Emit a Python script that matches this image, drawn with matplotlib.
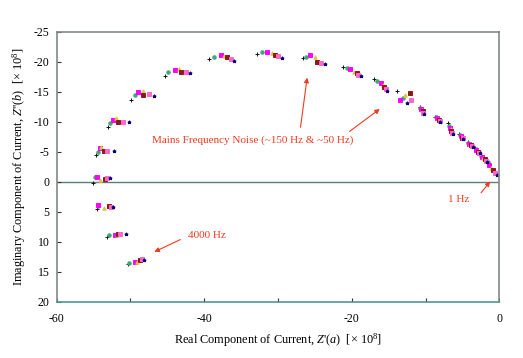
import matplotlib
matplotlib.use("Agg")
import matplotlib.pyplot as plt

plt.rcParams['font.family'] = ['Liberation Serif', 'DejaVu Serif']
plt.rcParams['axes.unicode_minus'] = False
plt.rcParams['mathtext.fontset'] = 'custom'
plt.rcParams['mathtext.rm'] = 'Liberation Serif'
plt.rcParams['mathtext.it'] = 'Liberation Serif:italic'

# repeated sweeps, 4000 Hz (bottom left) -> 1 Hz (right end)
re_s0 = [-50.29, -53.14, -54.58, -55.12, -54.67, -53.09, -49.97, -45.32, -39.31, -32.81, -26.65,
         -21.23, -16.99, -13.81, -10.8, -8.7, -6.9, -5.4, -4.3, -3.3, -2.6, -1.9]
im_s0 = [13.72, 9.27, 4.6, 0.27, -4.45, -9.07, -13.62, -17.62, -20.4, -21.28, -20.57,
         -19.17, -17.07, -15.17, -12.5, -10.8, -9.7, -7.95, -6.65, -5.55, -4.45, -3.6]
re_s1 = [-50.16, -52.87, -54.44, -54.81, -54.44, -52.77, -49.39, -44.87, -38.68, -32.21, -26.21,
         -20.61, -16.54, -13.1, -10.7, -8.6, -6.8, -5.3, -4.2, -3.2, -2.45, -1.6]
im_s1 = [13.5, 8.88, 4.05, -0.73, -5.0, -9.73, -14.45, -18.23, -20.83, -21.57, -20.83,
         -18.9, -16.73, -13.9, -12.3, -10.7, -9.3, -7.8, -6.5, -5.4, -4.25, -3.2]
re_s2 = [-49.39, -52.1, -54.36, -54.58, -54.13, -52.33, -48.94, -43.96, -37.77, -31.53, -25.66,
         -20.24, -16.08, -13.46, -10.6, -8.5, -6.7, -5.2, -4.1, -3.1, -2.3, -1.35]
im_s2 = [13.43, 8.93, 3.88, -0.83, -5.57, -10.28, -15.0, -18.62, -21.17, -21.67, -21.12,
         -18.73, -16.5, -13.62, -12.1, -10.55, -9.0, -7.65, -6.35, -5.25, -4.1, -2.7]
re_s3 = [-49.07, -51.87, -53.59, -54.13, -54.04, -51.96, -48.34, -43.38, -37.32, -30.86, -24.99,
         -19.7, -15.81, -12.79, -10.5, -8.35, -6.6, -5.15, -3.95, -2.95, -2.15, -1.1]
im_s3 = [13.38, 8.88, 4.33, -0.28, -5.73, -10.57, -15.17, -18.73, -21.0, -21.4, -20.83,
         -18.33, -16.12, -14.5, -11.9, -10.4, -8.7, -7.5, -6.2, -5.15, -3.9, -2.3]
re_s4 = [-48.71, -51.65, -52.87, -53.45, -53.6, -51.65, -48.26, -43.19, -36.96, -30.41, -24.67,
         -19.33, -15.63, -12.04, -10.4, -8.2, -6.5, -5.05, -3.85, -2.85, -2.0, -0.85]
im_s4 = [13.05, 8.77, 4.05, -0.45, -5.12, -10.0, -14.45, -18.33, -20.73, -21.12, -20.0,
         -18.07, -15.83, -14.73, -11.7, -10.25, -8.4, -7.35, -6.05, -5.0, -3.7, -1.9]
re_s5 = [-48.48, -51.42, -52.68, -53.14, -53.14, -50.97, -47.45, -42.47, -36.41, -29.96, -24.21,
         -19.12, -15.36, -11.95, -10.3, -8.1, -6.4, -4.95, -3.7, -2.7, -1.85, -0.6]
im_s5 = [12.93, 8.72, 4.17, -0.57, -5.17, -10.0, -14.62, -18.23, -20.45, -20.95, -19.83,
         -17.83, -15.4, -13.62, -11.5, -10.1, -8.1, -7.2, -5.95, -4.85, -3.5, -1.5]
re_s6 = [-48.13, -50.61, -52.33, -52.77, -52.23, -50.16, -46.81, -41.93, -35.92, -29.5, -23.63,
         -18.79, -15.18, -12.46, -10.2, -8.0, -6.3, -4.9, -3.6, -2.6, -1.7, -0.35]
im_s6 = [13.05, 8.72, 4.17, -0.57, -5.17, -9.95, -14.33, -18.07, -20.12, -20.67, -19.62,
         -17.62, -15.17, -13.07, -11.3, -10.0, -7.9, -7.05, -5.8, -4.7, -3.3, -1.1]

series = [
    (re_s0, im_s0, '+', '#111111'),
    (re_s1, im_s1, 'o', '#3CA878'),
    (re_s2, im_s2, 's', '#FF00FF'),
    (re_s3, im_s3, '^', '#D8C840'),
    (re_s4, im_s4, 's', '#8B1A1A'),
    (re_s5, im_s5, 's', '#FF66CC'),
    (re_s6, im_s6, '*', '#000080'),
]

red = '#F03A1E'

fig = plt.figure(figsize=(5.23, 3.58), dpi=100)
ax = fig.add_axes([0.1084, 0.1573, 0.8463, 0.7542])

for re, im, m, c in series:
    ax.plot(re, im, ls='none', marker=m, ms=2.5, color=c, mec=c, mew=0.7)

ax.axhline(0, color='#5E7F74', lw=1.0, zorder=1)

ax.set_xlim(-60, 0)
ax.set_ylim(20, -25)
ax.set_xticks([-60, -40, -20, 0])
ax.set_xticks([-50, -30, -10], minor=True)
ax.set_yticks(range(-25, 21, 5))
ax.tick_params(axis='both', which='both', direction='in', length=3, width=0.8,
               labelsize=8.5, colors='#333333')
ax.tick_params(axis='x', pad=8)
ax.tick_params(axis='y', pad=5)
for lab in ax.get_xticklabels() + ax.get_yticklabels():
    lab.set_color('black')

for side in ['top', 'right', 'left']:
    ax.spines[side].set_color('#7F8A84')
    ax.spines[side].set_linewidth(1.2)
ax.spines['bottom'].set_color('#4E9A90')
ax.spines['bottom'].set_linewidth(1.2)

ax.set_xlabel(r"Real Component of Current, $Z$'$(a)$  [$\times$ 10$^8$]", fontsize=8.8, labelpad=5)
ax.set_ylabel(r"Imaginary Component of Current, $Z$''$(b)$  [$\times$ 10$^8$]", fontsize=8.8, labelpad=4)

# annotations
ax.text(-47.1, -6.95, "Mains Frequency Noise (~150 Hz & ~50 Hz)", color=red, fontsize=8,
        va='center', ha='left')
arrow = dict(arrowstyle='-|>', color=red, lw=0.8, mutation_scale=7)
ax.annotate("", xy=(-26.0, -17.8), xytext=(-27.0, -8.6), arrowprops=arrow)
ax.annotate("", xy=(-15.9, -12.4), xytext=(-20.6, -8.1), arrowprops=arrow)

ax.text(-6.9, 3.05, "1 Hz", color=red, fontsize=8, va='center', ha='left')
ax.annotate("", xy=(-1.0, -0.4), xytext=(-2.7, 2.2), arrowprops=arrow)

ax.text(-42.2, 9.0, "4000 Hz", color=red, fontsize=8, va='center', ha='left')
ax.annotate("", xy=(-47.1, 11.9), xytext=(-42.9, 9.45), arrowprops=arrow)

fig.savefig("out.png", dpi=100)
